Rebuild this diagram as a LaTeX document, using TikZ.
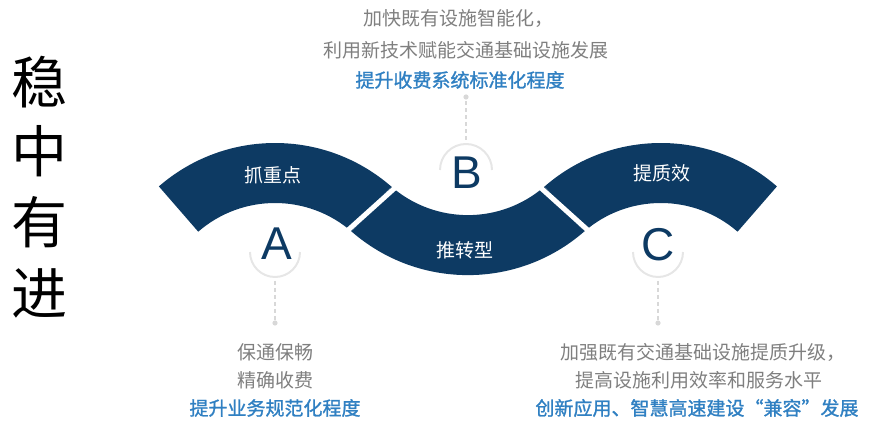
\documentclass[tikz,border=0pt]{standalone}
\usepackage{fontspec}
\setmainfont{Noto Sans CJK SC}
\newfontfamily\latf{Liberation Sans}
\newfontfamily\cjkmed[FakeBold=1.3]{Noto Sans CJK SC}
\usetikzlibrary{calc}
\definecolor{navy}{HTML}{0D3A63}
\definecolor{txtgray}{HTML}{7F7F7F}
\definecolor{txtblue}{HTML}{3080C2}
\definecolor{arcgray}{HTML}{E6E6E6}
\definecolor{lnkgray}{HTML}{D8D8D8}
\tikzset{
  band/.style={fill=navy},
  gapline/.style={draw=white, line width=5},
  bandlabel/.style={text=white, font=\fontsize{19}{22}\selectfont, inner sep=0},
  letter/.style={text=navy, font=\latf\fontsize{46}{50}\selectfont, inner sep=0},
  ring/.style={draw=arcgray, line width=2},
  link/.style={draw=lnkgray, line width=1.4, dash pattern=on 4pt off 3pt},
  linkdot/.style={fill=lnkgray},
  graytext/.style={text=txtgray, font=\fontsize{19}{22}\selectfont, inner sep=0},
  bluetext/.style={text=txtblue, font=\cjkmed\fontsize{19}{22}\selectfont, inner sep=0},
  titlechar/.style={text=black, font=\fontsize{56}{60}\selectfont, inner sep=0}
}
\begin{document}
\begin{tikzpicture}[x=1pt,y=1pt]
\useasboundingbox (0,0) rectangle (879,431);
% centres of the three arcs
\coordinate (cA) at (275,111);
\coordinate (cB) at ($(cA)+(49:294)$);
\coordinate (cC) at ($(cA)+(385.8,0)$);
% bands
\fill[band] ($(cA)+(131:177)$) arc[start angle=131,end angle=49,radius=177]
  -- ($(cA)+(49:117)$) arc[start angle=49,end angle=131,radius=117] -- cycle;
\fill[band] ($(cB)+(229:117)$) arc[start angle=229,end angle=311,radius=117]
  -- ($(cB)+(311:177)$) arc[start angle=311,end angle=229,radius=177] -- cycle;
\fill[band] ($(cC)+(131:177)$) arc[start angle=131,end angle=49,radius=177]
  -- ($(cC)+(49:117)$) arc[start angle=49,end angle=131,radius=117] -- cycle;
% gaps
\coordinate (J1) at ($(cA)+(49:147)$);
\coordinate (J2) at ($(cC)+(131:147)$);
\path[gapline] ($(J1)+(222:42)$) -- ($(J1)+(42:42)$);
\path[gapline] ($(J2)+(318:42)$) -- ($(J2)+(138:42)$);
% band labels
\node[bandlabel] (lA) at (273,256) {抓重点};
\node[bandlabel] (lB) at (465,181) {推转型};
\node[bandlabel] (lC) at (662,258) {提质效};
% letters and rings
\node[letter] (A) at (277,187) {A};
\node[letter] (B) at (467,258) {B};
\node[letter] (C) at (658,186) {C};
\draw[ring] (300,179) arc[start angle=0,end angle=-180,radius=25];
\draw[ring] (492,261) arc[start angle=0,end angle=180,radius=26];
\draw[ring] (683,179) arc[start angle=0,end angle=-180,radius=25];
% links
\coordinate (ringA) at (275,150);
\coordinate (dotA) at (275,108);
\coordinate (ringB) at (466,291);
\coordinate (dotB) at (466,334);
\coordinate (ringC) at (658,150);
\coordinate (dotC) at (658,108);
\path[link] (ringA) -- (dotA);
\path[link] (ringB) -- (dotB);
\path[link] (ringC) -- (dotC);
\fill[linkdot] (dotA) circle (2.6);
\fill[linkdot] (dotB) circle (2.6);
\fill[linkdot] (dotC) circle (2.6);
% top text
\node[graytext] (tB1) at (458,412.5) {加快既有设施智能化，};
\node[graytext] (tB2) at (466,381) {利用新技术赋能交通基础设施发展};
\node[bluetext] (tB3) at (460,351) {提升收费系统标准化程度};
% left text
\node[graytext] (tA1) at (275,79) {保通保畅};
\node[graytext] (tA2) at (275,51) {精确收费};
\node[bluetext] (tA3) at (275,23) {提升业务规范化程度};
% right text
\node[graytext] (tC1) at (703,79) {加强既有交通基础设施提质升级，};
\node[graytext] (tC2) at (699,51) {提高设施利用效率和服务水平};
\node[bluetext] (tC3) at (697,23) {创新应用、智慧高速建设“兼容”发展};
% title
\node[titlechar] (t1) at (40,349) {稳};
\node[titlechar] (t2) at (40,280) {中};
\node[titlechar] (t3) at (40,209) {有};
\node[titlechar] (t4) at (40,138) {进};
\end{tikzpicture}
\end{document}
